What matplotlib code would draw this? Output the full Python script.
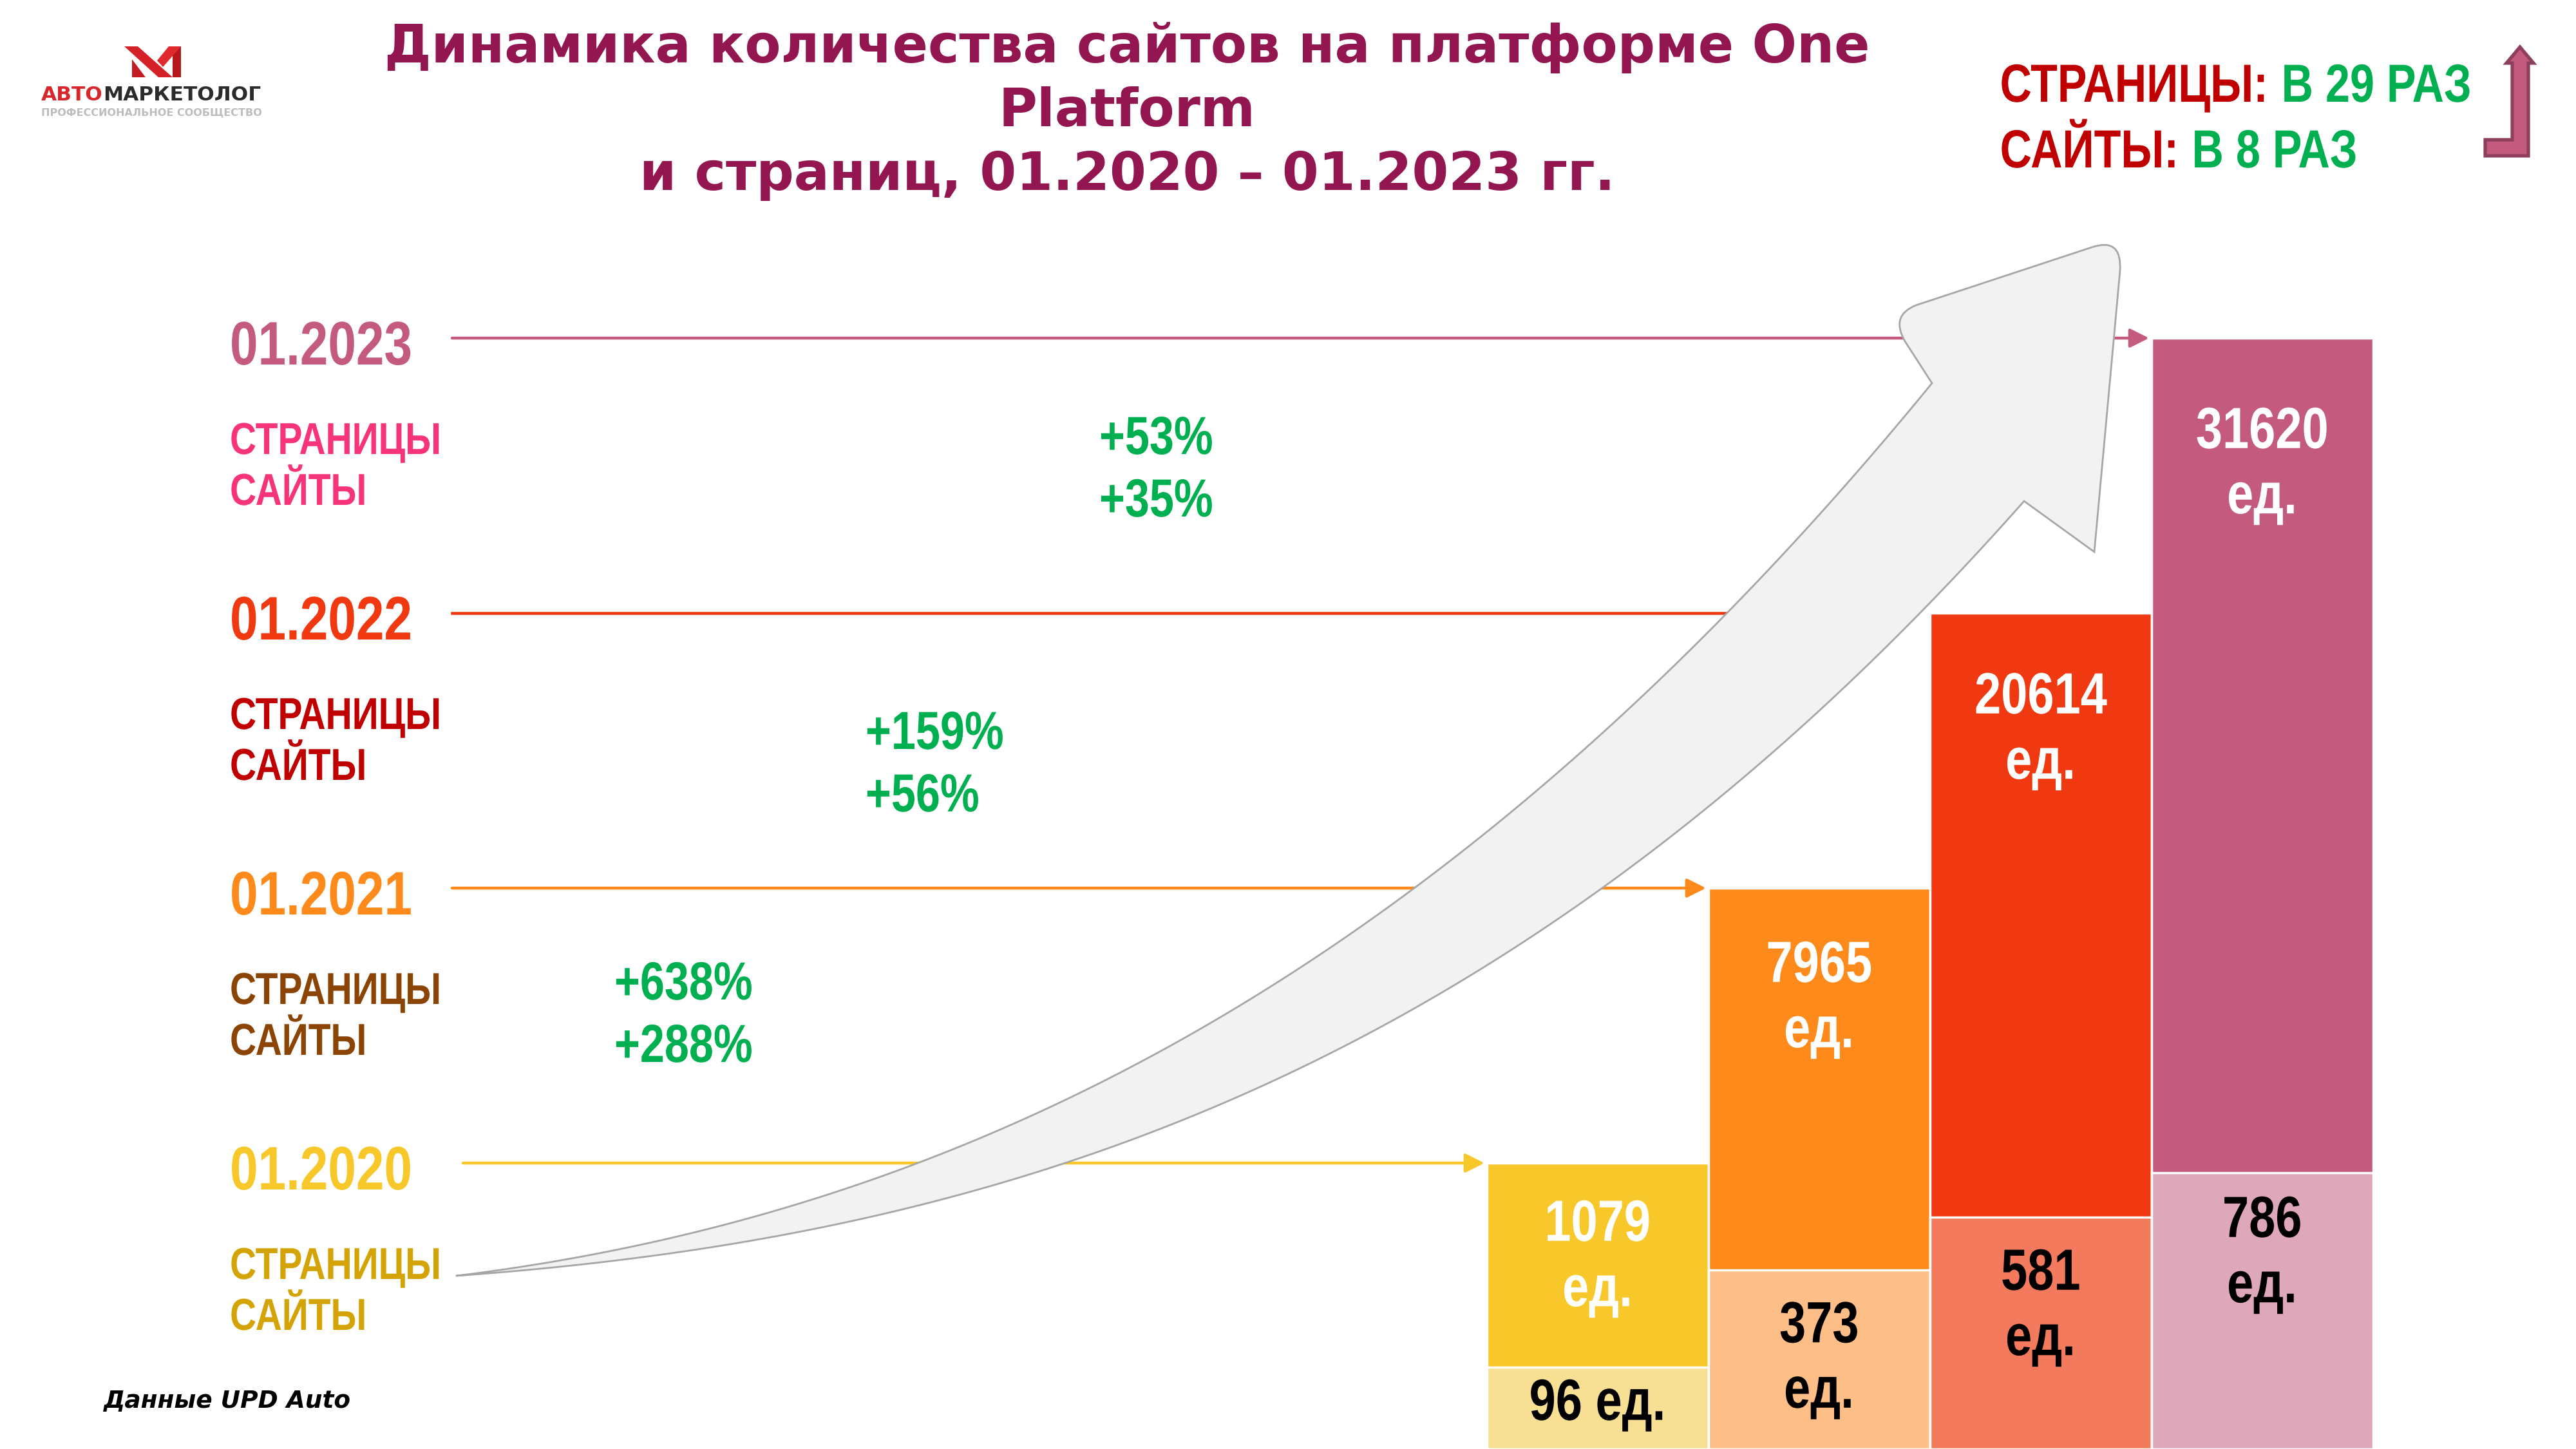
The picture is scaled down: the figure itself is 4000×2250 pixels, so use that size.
import matplotlib.pyplot as plt
import numpy as np
from matplotlib.path import Path
from matplotlib.patches import PathPatch, Polygon
from matplotlib.patheffects import AbstractPathEffect
from matplotlib.transforms import Affine2D

# ---- data ----
years = ['01.2020', '01.2021', '01.2022', '01.2023']
pages = [1079, 7965, 20614, 31620]
sites = [96, 373, 581, 786]
pages_growth = ['+638%', '+159%', '+53%']
sites_growth = ['+288%', '+56%', '+35%']
pages_times = 29
sites_times = 8

year_colors = ['#F8C82B', '#FD8A1A', '#F03911', '#C45B7E']
label_colors = ['#D4A406', '#8C4404', '#C00000', '#F7347A']
site_colors = ['#F7DF94', '#FDBF87', '#F47A5E', '#DFA8BA']
GREEN = '#00B050'
RED = '#C00000'
TITLE = '#941651'
SANS = ['Liberation Sans', 'DejaVu Sans']
SX = 0.82  # Arial Narrow is Arial squeezed to ~82 %


class Narrow(AbstractPathEffect):
    """squeeze text glyphs horizontally (no narrow font installed)"""

    def __init__(self, anchor='left'):
        super().__init__()
        self.anchor = anchor

    def draw_path(self, renderer, gc, tpath, affine, rgbFace=None):
        x = tpath.vertices[:, 0]
        if self.anchor == 'left' or len(x) == 0:
            c = 0
        elif self.anchor == 'right':
            c = x.max()
        else:
            c = (x.min() + x.max()) / 2
        t = Affine2D().translate(-c, 0).scale(SX, 1).translate(c, 0)
        renderer.draw_path(gc, tpath, t + affine, rgbFace)


def ntext(x, y, s, anchor='left', va='baseline', **kw):
    return ax.text(x, y, s, family=SANS, fontweight='bold', ha=anchor, va=va,
                   path_effects=[Narrow(anchor)], zorder=5, **kw)


# ---- layout (pixel space of the slide) ----
W, H = 4000, 2250
row0, row_gap = 1806, 427
bar_x0, bar_w = 2309, 344
site_max_h = 429

fig = plt.figure(figsize=(16, 9), dpi=250)
ax = fig.add_axes([0, 0, 1, 1])
ax.set_xlim(0, W)
ax.set_ylim(H, 0)
ax.axis('off')

row_y = [row0 - row_gap * i for i in range(len(years))]
bar_left = [bar_x0 + bar_w * i for i in range(len(years))]

# ---- timeline lines with arrowheads ----
for i, y in enumerate(row_y):
    x0 = 719 if i == 0 else 702
    if i == 2:
        # this one ends under the grey arrow
        ax.plot([x0, 2900], [y, y], color=year_colors[i], lw=1.3, zorder=2)
        continue
    ax.annotate('', xy=(bar_left[i] - 4, y), xytext=(x0, y),
                arrowprops=dict(arrowstyle='-|>', color=year_colors[i], lw=1.3,
                                mutation_scale=18, shrinkA=0, shrinkB=0),
                zorder=2)

# ---- big grey curved arrow (edges smoothed with a cubic) ----
tail = (709, 1981)
up_pts = np.array([tail, (1059, 1921), (1404, 1810), (1750, 1668), (2012, 1500),
                   (2250, 1336), (2685, 953), (2733, 900), (3000, 595)], float)
lo_pts = np.array([tail, (1059, 1952), (1404, 1883), (1668, 1806), (1913, 1690),
                   (2250, 1531), (2484, 1381), (3000, 953), (3052, 900), (3143, 778)], float)


def edge(pts, x_from, x_to):
    w = np.ones(len(pts))
    w[0] = w[-1] = 20
    cf = np.polyfit(pts[:, 0], pts[:, 1], 3, w=w)
    xs = np.linspace(x_from, x_to, 150)
    return list(zip(xs, np.polyval(cf, xs)))


vu = edge(up_pts, tail[0], 3000)
vl = edge(lo_pts, 3143, tail[0])
head_v = [(2958, 530), (2935, 490), (2975, 474), (3248, 384), (3295, 368), (3292, 420), (3252, 857)]
head_c = [Path.LINETO, Path.CURVE3, Path.CURVE3, Path.LINETO, Path.CURVE3, Path.CURVE3, Path.LINETO]
verts = vu + head_v + vl + [tail]
codes = ([Path.MOVETO] + [Path.LINETO] * (len(vu) - 1) + head_c
         + [Path.LINETO] * len(vl) + [Path.CLOSEPOLY])
ax.add_patch(PathPatch(Path(verts, codes), facecolor='#F2F2F2', edgecolor='#A6A6A6',
                       lw=0.8, zorder=3))

# ---- stepped bars ----
site_h = site_max_h * (np.array(sites) / max(sites)) ** 0.58
for i in range(len(years)):
    ax.bar(bar_left[i], H - row_y[i], bottom=row_y[i], width=bar_w, align='edge',
           color=year_colors[i], edgecolor='white', lw=1, zorder=4)
    ax.bar(bar_left[i], site_h[i], bottom=H - site_h[i], width=bar_w, align='edge',
           color=site_colors[i], edgecolor='white', lw=1, zorder=4)

# bar labels
page_dy = [148, 173, 183, 198]
site_dy = [58, 140, 140, 127]
for i in range(len(years)):
    cx = bar_left[i] + bar_w / 2
    ntext(cx, row_y[i] + page_dy[i], f'{pages[i]}\nед.', anchor='center', va='center',
          color='white', fontsize=26, linespacing=1.25)
    lab = f'{sites[i]} ед.' if i == 0 else f'{sites[i]}\nед.'
    ntext(cx, H - site_h[i] + site_dy[i], lab, anchor='center', va='center',
          color='black', fontsize=26, linespacing=1.25)

# ---- left labels ----
for i, y in enumerate(row_y):
    ntext(357, y + 41, years[i], color=year_colors[i], fontsize=27.5)
    ntext(357, y + 180, 'СТРАНИЦЫ', color=label_colors[i], fontsize=20)
    ntext(357, y + 259, 'САЙТЫ', color=label_colors[i], fontsize=20)

# growth percentages
pct_x = [954, 1344, 1707]
pct_dy = [173, 211, 180]
for i in range(3):
    y = row_y[i + 1] + pct_dy[i]
    ntext(pct_x[i], y, pages_growth[i], color=GREEN, fontsize=24)
    ntext(pct_x[i], y + 97, sites_growth[i], color=GREEN, fontsize=24)

# ---- title ----
ax.text(1750, 173, 'Динамика количества сайтов на платформе One\nPlatform\n'
        'и страниц, 01.2020 – 01.2023 гг.', ha='center', va='center', color=TITLE,
        fontsize=23.5, fontweight='bold', family='DejaVu Sans', linespacing=1.32)

# ---- top right summary ----
fig.canvas.draw()
for y, name, k in [(158, 'СТРАНИЦЫ:', pages_times), (260, 'САЙТЫ:', sites_times)]:
    t = ntext(3107, y, name, color=RED, fontsize=24)
    w = t.get_window_extent(fig.canvas.get_renderer()).width
    xb = 3107 + SX * w
    t.set_x(xb)
    t.set_ha('right')
    t.set_path_effects([Narrow('right')])
    ntext(xb, y, f' В {k} РАЗ', color=GREEN, fontsize=24)

ax.add_patch(Polygon([(3859, 242), (3859, 217), (3901, 217), (3901, 98), (3892, 98),
                      (3913, 73), (3934, 98), (3926, 98), (3926, 242)], closed=True,
                     facecolor='#C45B7E', edgecolor='#8E3F5E', lw=1.5, zorder=5))

# ---- logo ----
ax.add_patch(Polygon([(193, 72), (214, 72), (268, 120), (246, 120)], facecolor='#D42027',
                     lw=0, zorder=5))
ax.add_patch(Polygon([(268, 72), (281, 72), (281, 120), (268, 120)], facecolor='#B5171D',
                     lw=0, zorder=5))
ax.add_patch(Polygon([(262, 72), (281, 72), (253, 104), (244, 94)], facecolor='#E0292F',
                     lw=0, zorder=5))
ax.add_patch(Polygon([(205, 92), (205, 120), (226, 120)], facecolor='#C41C22',
                     lw=0, zorder=5))
t = ax.text(64, 148, 'АВТО', color='#D9262B', fontsize=9, fontweight='bold',
            family='DejaVu Sans', va='center', ha='left')
ax.annotate('МАРКЕТОЛОГ', xy=(1, 0), xycoords=t, va='bottom', ha='left',
            color='#2B2B2B', fontsize=9, fontweight='bold', family='DejaVu Sans')
ax.text(64, 175, 'ПРОФЕССИОНАЛЬНОЕ СООБЩЕСТВО', color='#BDBDBD', fontsize=4.6,
        fontweight='bold', family='DejaVu Sans', va='center', ha='left')

# ---- source ----
ax.text(161, 2176, 'Данные UPD Auto', color='black', fontsize=10.8, fontweight='bold',
        style='italic', family='DejaVu Sans', va='center', ha='left')

plt.savefig('out.png', dpi=250, facecolor='white')
